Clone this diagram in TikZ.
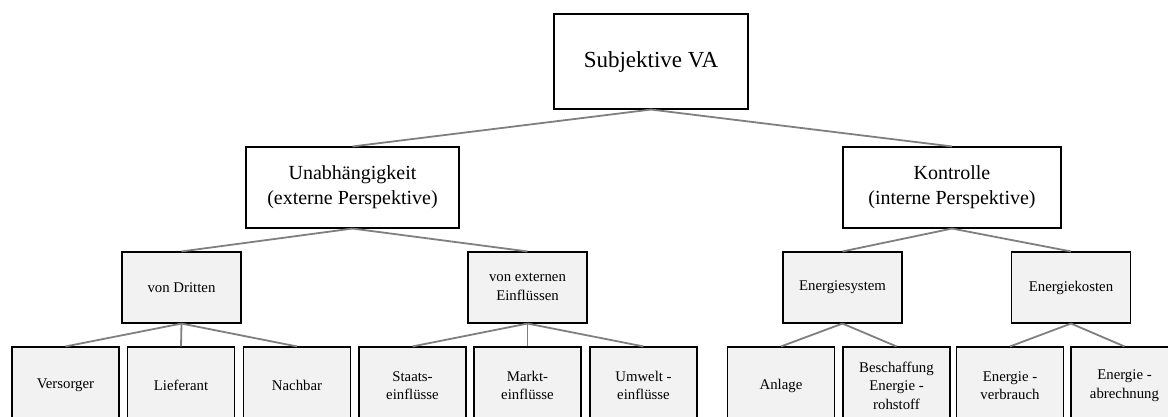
\documentclass[tikz,border=0pt]{standalone}
\usepackage{fontspec}
\setmainfont{Liberation Serif}
\begin{document}
\begin{tikzpicture}[x=1pt,y=-1pt,
  box/.style={draw=black,line width=1.1pt,align=center,inner sep=0pt,anchor=center},
  rootbox/.style={box,fill=white,minimum width=194pt,minimum height=95pt,font=\fontsize{23}{27}\selectfont},
  midbox/.style={box,fill=white,minimum height=81pt,font=\fontsize{20}{24.5}\selectfont},
  subbox/.style={box,fill=boxgray,minimum width=119pt,minimum height=71pt,font=\fontsize{14.8}{19}\selectfont},
  leafbox/.style={box,fill=boxgray,minimum width=107pt,minimum height=77pt,font=\fontsize{14.8}{18.5}\selectfont},
  link/.style={draw=linkgray,line width=1.8pt}]
\definecolor{boxgray}{HTML}{F2F2F2}
\definecolor{linkgray}{HTML}{7F7F7F}
\useasboundingbox (0,0) rectangle (1168,417);
\clip (0,0) rectangle (1168,417);

% root
\node[rootbox] (root) at (651,61.5) {Subjektive VA};

% second level
\node[midbox,minimum width=213pt] (unab) at (352.5,187.5) {\raisebox{-2pt}{\begin{tabular}{@{}c@{}}Unabhängigkeit\\[0.5pt](externe Perspektive)\end{tabular}}};
\node[midbox,minimum width=218pt] (kontr) at (952,187.5) {\raisebox{-2pt}{\begin{tabular}{@{}c@{}}Kontrolle\\[0.5pt](interne Perspektive)\end{tabular}}};

% third level
\node[subbox] (dritte) at (181.5,287.5) {von Dritten};
\node[subbox] (extern) at (527.5,287.5) {\raisebox{-2pt}{\begin{tabular}{@{}c@{}}von externen\\Einflüssen\end{tabular}}};
\node[subbox] (esys) at (842.5,287.5) {Energiesystem};
\node[subbox] (ekost) at (1071,287.5) {Energiekosten};

% leaves
\node[leafbox] (vers) at (65.5,385.5) {Versorger};
\node[leafbox] (lief) at (181,385.5) {Lieferant};
\node[leafbox] (nach) at (297,385.5) {Nachbar};
\node[leafbox] (staat) at (412.5,385.5) {Staats-\\einflüsse};
\node[leafbox] (markt) at (527.5,385.5) {Markt-\\einflüsse};
\node[leafbox] (umw) at (643.5,385.5) {Umwelt -\\einflüsse};
\node[leafbox] (anl) at (781,385.5) {Anlage};
\node[leafbox] (besch) at (896.5,385.5) {Beschaffung\\Energie -\\rohstoff};
\node[leafbox] (verb) at (1010,385.5) {Energie -\\verbrauch};
\node[leafbox] (abr) at (1124.5,385.5) {Energie -\\abrechnung};

% connectors
\foreach \p/\c in {root/unab,root/kontr,
                   unab/dritte,unab/extern,kontr/esys,kontr/ekost,
                   dritte/vers,dritte/lief,dritte/nach,
                   extern/staat,extern/markt,extern/umw,
                   esys/anl,esys/besch,ekost/verb,ekost/abr}
  \draw[link] (\p.south) -- (\c.north);
\end{tikzpicture}
\end{document}
